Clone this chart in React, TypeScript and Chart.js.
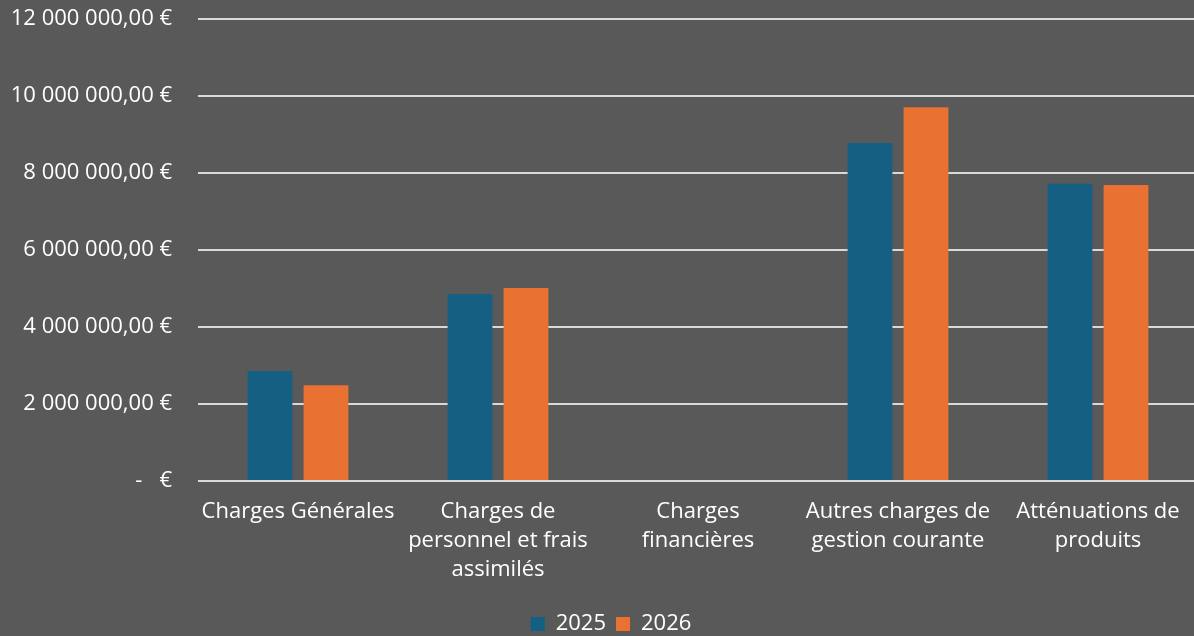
import React, { useEffect, useRef } from "react";
import { Chart, registerables } from "chart.js";

Chart.register(...registerables);

const categories: string[][] = [
  ["Charges Générales"],
  ["Charges de", "personnel et frais", "assimilés"],
  ["Charges", "financières"],
  ["Autres charges de", "gestion courante"],
  ["Atténuations de", "produits"],
];
const values2025: number[] = [2860000, 4860000, 0, 8780000, 7720000];
const values2026: number[] = [2490000, 5010000, 0, 9710000, 7690000];
const seriesNames: string[] = ["2025", "2026"];
const yMax = 12000000;
const yStep = 2000000;

function formatEuro(v: number): string {
  if (v === 0) return "-   €";
  const int = Math.round(v).toString().replace(/\B(?=(\d{3})+(?!\d))/g, " ");
  return int + ",00 €";
}

const legendShift = {
  id: "legendShift",
  afterLayout(chart: any) {
    const lg = chart.legend;
    if (lg) {
      lg.left += 12;
      lg.right += 12;
    }
  },
};

export default function App() {
  const ref = useRef<HTMLCanvasElement | null>(null);
  useEffect(() => {
    document.body.style.margin = "0";
    document.body.style.background = "#595959";
    document.body.style.overflow = "hidden";
    if (!ref.current) return;
    Chart.defaults.font.family = "'Open Sans', sans-serif";
    Chart.defaults.font.size = 22;
    Chart.defaults.color = "#ffffff";
    const chart = new Chart(ref.current, {
      type: "bar",
      data: {
        labels: categories,
        datasets: [
          {
            label: seriesNames[0],
            data: values2025,
            backgroundColor: "#156082",
            categoryPercentage: 0.56,
            barPercentage: 0.8,
          },
          {
            label: seriesNames[1],
            data: values2026,
            backgroundColor: "#E97132",
            categoryPercentage: 0.56,
            barPercentage: 0.8,
          },
        ],
      },
      plugins: [legendShift],
      options: {
        animation: false,
        responsive: false,
        maintainAspectRatio: false,
        layout: { padding: { top: 19, right: 0, left: 0, bottom: 0 } },
        plugins: {
          tooltip: { enabled: false },
          legend: {
            position: "bottom",
            labels: {
              boxWidth: 14,
              boxHeight: 14,
              color: "#ffffff",
              padding: 10,
              font: { size: 22 },
            },
          },
        },
        scales: {
          x: {
            afterFit: (scale: any) => {
              scale.height = 122;
            },
            grid: { display: false, drawTicks: false },
            border: { display: false },
            ticks: {
              color: "#ffffff",
              maxRotation: 0,
              minRotation: 0,
              autoSkip: false,
              padding: 16,
              font: { size: 22, lineHeight: 1.32 },
            },
          },
          y: {
            min: 0,
            max: yMax,
            afterFit: (scale: any) => {
              scale.width = 198;
              scale.paddingTop = 0;
              scale.paddingBottom = 0;
            },
            grid: { color: "#d9d9d9", lineWidth: 2, drawTicks: false },
            border: { display: false },
            ticks: {
              stepSize: yStep,
              color: "#ffffff",
              padding: 26,
              font: { size: 22 },
              callback: (v: any) => formatEuro(Number(v)),
            },
          },
        },
      },
    });
    return () => chart.destroy();
  }, []);
  return (
    <div style={{ position: "absolute", left: 0, top: 0, width: 1198, height: 645, background: "#595959" }}>
      <canvas ref={ref} width={1198} height={645} style={{ width: 1198, height: 645 }} />
    </div>
  );
}
